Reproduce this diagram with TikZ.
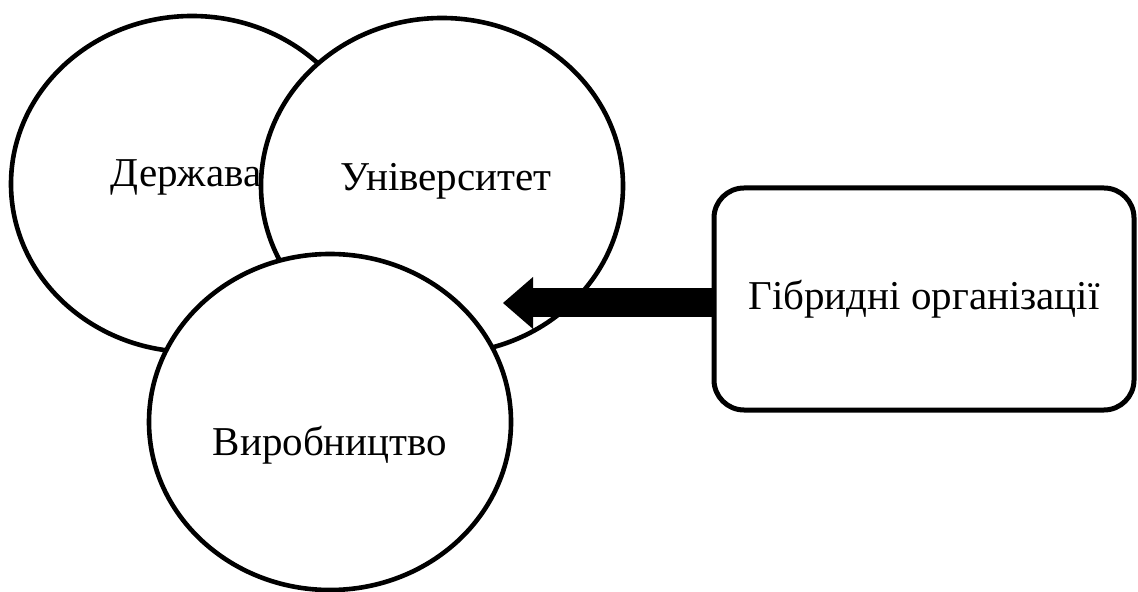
\documentclass[tikz,border=0pt]{standalone}
\usepackage{fontspec}
\setmainfont{Liberation Serif}
\usetikzlibrary{shapes.geometric,arrows.meta}
\tikzset{
  sphere/.style={ellipse,draw,fill=white,line width=2.3pt,minimum width=181pt,minimum height=168pt},
  lbl/.style={font=\fontsize{20.5}{24}\selectfont},
  hybridbox/.style={draw,rounded corners=15pt,line width=2.5pt,minimum width=210pt,minimum height=111pt},
}
\begin{document}
\begin{tikzpicture}[x=0.5pt,y=-0.5pt]
  \useasboundingbox (0,0) rectangle (1138,592);
  % three spheres
  \node[sphere] (derzhava) at (192,184) {};
  \node[sphere] (univ) at (442,186) {};
  \node[sphere] (vyrob) at (330,422) {};
  \node[lbl] (derzhavaT) at (186,177) {Держава};
  \node[lbl] (univT) at (446,181) {Університет};
  \node[lbl] (vyrobT) at (330,445) {Виробництво};
  % hybrid organisations
  \node[hybridbox,lbl] (hybrid) at (924,299) {Гібридні організації};
  \coordinate (tip) at (503,303);
  \draw[line width=14.5pt,-{Triangle[length=15pt,width=26pt,line width=0pt]}] (hybrid.west |- tip) -- (tip);
\end{tikzpicture}
\end{document}
